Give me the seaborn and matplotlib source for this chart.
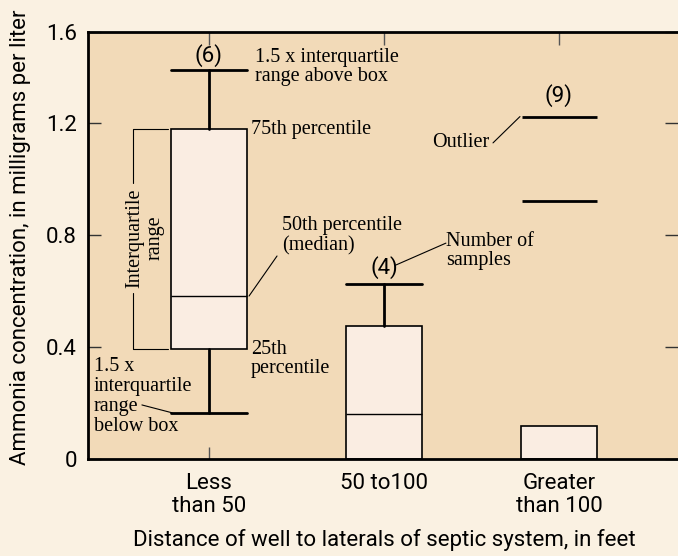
import matplotlib
matplotlib.use("Agg")
import matplotlib.pyplot as plt
import seaborn as sns

# box summaries (mg/L)
categories = ["Less\nthan 50", "50 to100", "Greater\nthan 100"]
sample_counts = [6, 4, 9]
whisker_low = [0.165, 0.0, 0.0]
q1 = [0.392, 0.0, 0.0]
median = [0.582, 0.16, 0.0]
q3 = [1.177, 0.475, 0.119]
whisker_high = [1.39, 0.624, 0.119]
outliers = [[], [], [0.921, 1.223]]
count_label_y = [1.44, 0.683, 1.30]

y_ticks = [0, 0.4, 0.8, 1.2]
y_tick_labels = ["0", "0.4", "0.8", "1.2", "1.6"]
y_top = 1.525  # the reference puts its "1.6" label on the top frame line

fig_bg = "#faf1e2"
ax_bg = "#f2dab8"
box_fill = "#faede2"

sns.set_theme(style="ticks", rc={"text.color": "black", "axes.labelcolor": "black",
                                 "xtick.color": "black", "ytick.color": "black"})
plt.rcParams["font.family"] = ["Roboto", "DejaVu Sans"]
serif = ["Liberation Serif", "DejaVu Serif"]

fig = plt.figure(figsize=(6.78, 5.56), dpi=100, facecolor=fig_bg)
ax = fig.add_axes([0.1298, 0.1745, 0.8702, 0.7679])
ax.set_facecolor(ax_bg)

stats = []
for i in range(len(categories)):
    stats.append({
        "label": categories[i], "whislo": whisker_low[i], "q1": q1[i],
        "med": median[i], "q3": q3[i], "whishi": whisker_high[i],
        "fliers": outliers[i],
    })

positions = list(range(len(categories)))
parts = ax.bxp(
    stats, positions=positions, widths=0.43, patch_artist=True,
    boxprops=dict(facecolor=box_fill, edgecolor="black", linewidth=1.2),
    medianprops=dict(color="black", linewidth=1.0),
    whiskerprops=dict(color="black", linewidth=2),
    capprops=dict(color="black", linewidth=2),
    flierprops=dict(marker="_", markersize=54, markeredgewidth=2,
                    markeredgecolor="black", linestyle="none"),
    capwidths=0.43,
)
# no cap where the whisker has zero length
for i in range(len(categories)):
    if whisker_low[i] == q1[i]:
        parts["caps"][2 * i].set_visible(False)
    if whisker_high[i] == q3[i]:
        parts["caps"][2 * i + 1].set_visible(False)

ax.set_xlim(-0.691, 2.68)
ax.set_ylim(0, y_top)
ax.set_yticks(y_ticks + [y_top])
ax.set_yticklabels(y_tick_labels)
ax.set_xticks(positions)
ax.set_xticklabels(categories, linespacing=1.15)

ax.tick_params(axis="y", direction="in", length=9.5, width=1, color="#333333",
               labelsize=16, pad=8, right=True, labelright=False)
ax.tick_params(axis="x", direction="in", length=9, width=1, color="#555555",
               labelsize=16, pad=10, top=True, labeltop=False)

for side in ["left", "top", "bottom"]:
    ax.spines[side].set_linewidth(2)
    ax.spines[side].set_color("black")
ax.spines["right"].set_visible(False)

ax.set_xlabel("Distance of well to laterals of septic system, in feet",
              fontsize=16)
ax.xaxis.set_label_coords(0.503, -0.164)
ax.set_ylabel("Ammonia concentration, in milligrams per liter", fontsize=16)
ax.yaxis.set_label_coords(-0.096, 0.52)

# sample counts
for i, n in enumerate(sample_counts):
    ax.text(positions[i], count_label_y[i], f"({n})", ha="center", va="center",
            fontsize=16)

# explanation text
fs = 14.5
ls = 1.05
ax.text(0.263, 1.40, "1.5 x interquartile\nrange above box", family=serif,
        fontsize=fs, ha="left", va="center", linespacing=ls)
ax.text(0.24, q3[0], "75th percentile", family=serif, fontsize=fs,
        ha="left", va="center")
ax.text(0.417, 0.797, "50th percentile\n(median)", family=serif, fontsize=fs,
        ha="left", va="center", linespacing=ls)
ax.plot([0.229, 0.389], [median[0], 0.725], color="black", lw=0.8)
ax.text(0.24, 0.357, "25th\npercentile", family=serif, fontsize=fs,
        ha="left", va="center", linespacing=ls)

# interquartile bracket
bx, bx2 = -0.434, -0.234
ax.plot([bx2, bx, bx], [q3[0], q3[0], 0.986], color="black", lw=0.8)
ax.plot([bx2, bx, bx], [q1[0], q1[0], 0.593], color="black", lw=0.8)
ax.text(-0.366, 0.789, "Interquartile\nrange", family=serif, fontsize=fs,
        rotation=90, ha="center", va="center", multialignment="center",
        linespacing=ls)

ax.text(-0.657, 0.223, "1.5 x\ninterquartile\nrange\nbelow box", family=serif,
        fontsize=fs, ha="left", va="center", linespacing=ls)
ax.plot([-0.383, -0.211], [0.193, whisker_low[0]], color="black", lw=0.8)

ax.text(1.60, 1.132, "Outlier", family=serif, fontsize=fs, ha="right",
        va="center")
ax.plot([1.623, 1.777], [1.129, outliers[2][1]], color="black", lw=0.8)

ax.text(1.354, 0.743, "Number of\nsamples", family=serif, fontsize=fs,
        ha="left", va="center", linespacing=ls)
ax.plot([1.354, 1.069], [0.771, 0.693], color="black", lw=0.8)

fig.savefig("out.png", dpi=100, facecolor=fig_bg)
